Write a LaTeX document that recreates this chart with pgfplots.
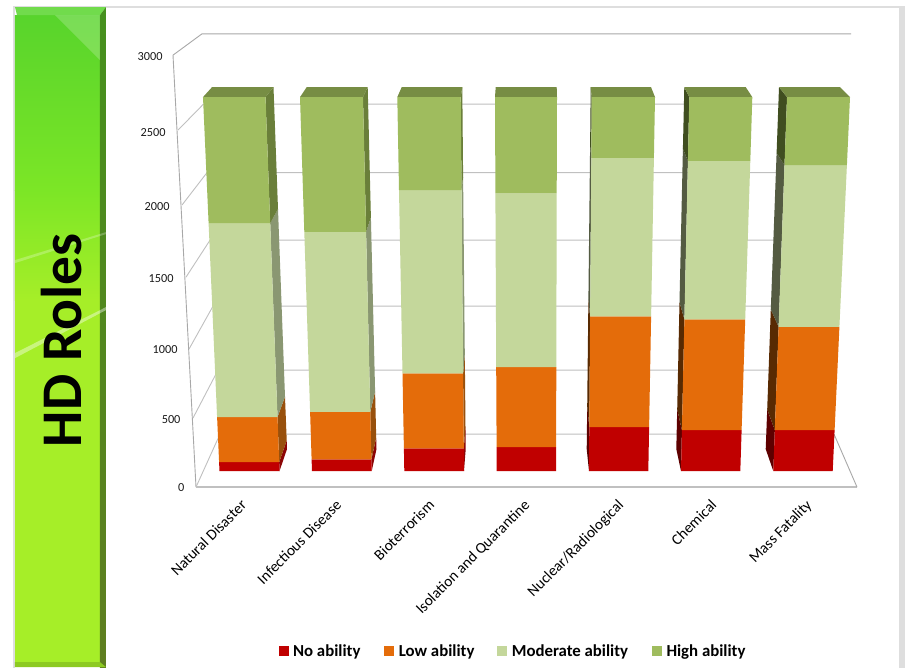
\documentclass[border=0pt]{standalone}
\usepackage{fontspec}
\setmainfont{Carlito}
\usepackage{pgfplots}
\pgfplotsset{compat=1.18}

\definecolor{cNo}{HTML}{C00000}
\definecolor{cLow}{HTML}{E46C0A}
\definecolor{cMod}{HTML}{C4D79B}
\definecolor{cHigh}{HTML}{9FBC5E}
\definecolor{cTop}{HTML}{778D44}
\definecolor{rNo}{HTML}{8C0505}
\definecolor{rLow}{HTML}{98500C}
\definecolor{rMod}{HTML}{8A9772}
\definecolor{rHigh}{HTML}{6A7F3A}
\definecolor{lNo}{HTML}{5E0000}
\definecolor{lLow}{HTML}{582A02}
\definecolor{lMod}{HTML}{545B42}
\definecolor{lHigh}{HTML}{404E20}
\definecolor{wall}{HTML}{A8A8A8}
\definecolor{grid}{HTML}{C0C0C0}
\definecolor{gA}{HTML}{58D42C}
\definecolor{gB}{HTML}{7CE626}
\definecolor{gC}{HTML}{A6EE28}
\definecolor{bA}{HTML}{46901E}
\definecolor{bB}{HTML}{5F7E20}

% a filled polygon in axis coordinates
\newcommand\poly[2]{\addplot[forget plot,no markers,draw=none,fill=#1] coordinates {#2};}
% one line of the walls
\newcommand\wline[2]{\addplot[forget plot,no markers,draw=#1,line width=0.9bp] coordinates {#2};}
% front of one stack: colour, bottom left, bottom right, bottom y, top left, top right, top y
\newcommand\face[7]{\poly{#1}{(#2,#4)(#3,#4)(#6,#7)(#5,#7)(#2,#4)}}
\newcommand\PX[2]{({(#1-196)*1bp},{(487-#2)*1bp})}

\begin{document}
\begin{tikzpicture}
% page
\fill[black!13] \PX{0}{0} rectangle \PX{905}{668};
\fill[white] \PX{0}{0} rectangle \PX{13}{668};
\fill[white] \PX{0}{0} rectangle \PX{905}{6};
\fill[white] \PX{15}{8} rectangle \PX{899}{668};

\begin{axis}[
  scale only axis,
  width=661bp, height=487bp,
  xmin=196, xmax=857,
  ymin=-112.5, ymax=3312.2,
  clip=false,
  axis line style={draw=none},
  major tick length=0pt,
  tick label style={font=\fontsize{12.3bp}{14bp}\selectfont,text=black!90},
  ytick={-112.5,365,858,1357,1863,2384,2918},
  yticklabels={{0\kern 8bp},{500\kern 12bp},{1000\kern 15bp},{1500\kern 19bp},{2000\kern 23bp},{2500\kern 27bp},{3000\kern 30bp}},
  xtick={230,325,418,513,607,700,795},
  xticklabels={Natural Disaster,Infectious Disease,Bioterrorism,Isolation and Quarantine,Nuclear/Radiological,Chemical,Mass Fatality},
  x tick label style={rotate=45,anchor=north east,inner sep=1bp,yshift=-14bp,font=\fontsize{15.3bp}{17bp}\selectfont,text=black},
  legend style={at={(axis cs:278.5,-1265)},anchor=west,draw=none,fill=none,inner sep=0pt,
    legend columns=4,column sep=3bp,font=\bfseries\fontsize{16.8bp}{19bp}\selectfont},
  legend image code/.code={\fill[#1] (0bp,-4.5bp) rectangle (9bp,4.5bp);},
]
\addlegendimage{cNo}\addlegendentry{No ability\kern 19bp}
\addlegendimage{cLow}\addlegendentry{Low ability\kern 18bp}
\addlegendimage{cMod}\addlegendentry{Moderate ability\kern 19bp}
\addlegendimage{cHigh}\addlegendentry{High ability}

% walls and floor
\wline{wall}{(173,2925)(196,-112.5)}
\wline{wall}{(173,2925)(202,3075)(851,3075)}
\wline{grid}{(178,2398)(203.5,2581)(848,2581)}
\wline{grid}{(182,1871)(207,2099)(845,2099)}
\wline{grid}{(186,1364)(210,1624)(842,1624)}
\wline{grid}{(189,858)(213,1160)(840,1160)}
\wline{grid}{(193,373)(218,710)(837,710)}
\wline{grid}{(196,-112.5)(220,260)(834,260)}
\addplot[forget plot,no markers,draw=grid,line width=1.3bp] coordinates {(196,-112.5)(857,-112.5)};
\wline{wall}{(857,-112.5)(834,260)}

% Natural Disaster
\poly{rNo}{(279.5,0)(287,155)(286.7,216)(279.2,63)(279.5,0)}
\poly{rLow}{(279.2,63)(286.7,216)(285,523)(277.5,380)(279.2,63)}
\poly{rMod}{(277.5,380)(285,523)(278,1843)(270.2,1744)(277.5,380)}
\poly{rHigh}{(270.2,1744)(278,1843)(273.5,2700)(265.5,2630)(270.2,1744)}
\poly{cTop}{(203,2630)(265.5,2630)(273.5,2700)(212,2700)(203,2630)}
\face{cNo}{219.5}{279.5}{0}{219.1}{279.2}{63}
\face{cLow}{219.1}{279.2}{63}{217.1}{277.5}{380}
\face{cMod}{217.1}{277.5}{380}{208.6}{270.2}{1744}
\face{cHigh}{208.6}{270.2}{1744}{203}{265.5}{2630}

% Infectious Disease
\poly{rNo}{(371.7,0)(376.5,155)(376.2,234)(371.4,82)(371.7,0)}
\poly{rLow}{(371.4,82)(376.2,234)(375.1,559)(370.3,417)(371.4,82)}
\poly{rMod}{(370.3,417)(375.1,559)(370.9,1784)(366.1,1683)(370.3,417)}
\poly{rHigh}{(366.1,1683)(370.9,1784)(367.7,2700)(363,2630)(366.1,1683)}
\poly{cTop}{(300,2630)(363,2630)(367.7,2700)(306.7,2700)(300,2630)}
\face{cNo}{312}{371.7}{0}{311.6}{371.4}{82}
\face{cLow}{311.6}{371.4}{82}{310.1}{370.3}{417}
\face{cMod}{310.1}{370.3}{417}{304.3}{366.1}{1683}
\face{cHigh}{304.3}{366.1}{1683}{300}{363}{2630}

% Bioterrorism
\poly{rNo}{(464,0)(465.7,155)(465.5,310)(463.8,160)(464,0)}
\poly{rLow}{(463.8,160)(465.5,310)(464.8,820)(463.1,687)(463.8,160)}
\poly{rMod}{(463.1,687)(464.8,820)(463.1,2067)(461.5,1976)(463.1,687)}
\poly{rHigh}{(461.5,1976)(463.1,2067)(462.3,2700)(460.7,2630)(461.5,1976)}
\poly{cTop}{(397.3,2630)(460.7,2630)(462.3,2700)(401.7,2700)(397.3,2630)}
\face{cNo}{404.3}{464}{0}{403.9}{463.8}{160}
\face{cLow}{403.9}{463.8}{160}{402.5}{463.1}{687}
\face{cMod}{402.5}{463.1}{687}{399}{461.5}{1976}
\face{cHigh}{399}{461.5}{1976}{397.3}{460.7}{2630}

% Isolation and Quarantine
\poly{cTop}{(495,2630)(557,2630)(556.7,2700)(495.7,2700)(495,2630)}
\face{cNo}{496.7}{556}{0}{496.6}{556.1}{169}
\face{cLow}{496.6}{556.1}{169}{496.2}{556.3}{731}
\face{cMod}{496.2}{556.3}{731}{495.4}{556.7}{1953}
\face{cHigh}{495.4}{556.7}{1953}{495}{557}{2630}

% Nuclear/Radiological
\poly{lNo}{(589,0)(586.7,155)(587.2,454)(589.3,309)(589,0)}
\poly{lLow}{(589.3,309)(587.2,454)(588.4,1208)(590.1,1088)(589.3,309)}
\poly{lMod}{(590.1,1088)(588.4,1208)(590.1,2287)(591.3,2203)(590.1,1088)}
\poly{lHigh}{(591.3,2203)(590.1,2287)(590.7,2700)(591.7,2630)(591.3,2203)}
\poly{cTop}{(591.7,2630)(655,2630)(651,2700)(590.7,2700)(591.7,2630)}
\face{cNo}{589}{648.3}{0}{589.3}{649.1}{309}
\face{cLow}{589.3}{649.1}{309}{590.1}{651.1}{1088}
\face{cMod}{590.1}{651.1}{1088}{591.3}{653.9}{2203}
\face{cHigh}{591.3}{653.9}{2203}{591.7}{655}{2630}

% Chemical
\poly{lNo}{(681,0)(676.3,155)(677.2,434)(681.9,288)(681,0)}
\poly{lLow}{(681.9,288)(677.2,434)(679.5,1188)(684.4,1067)(681.9,288)}
\poly{lMod}{(684.4,1067)(679.5,1188)(682.9,2267)(687.9,2182)(684.4,1067)}
\poly{lHigh}{(687.9,2182)(682.9,2267)(684.3,2700)(689.3,2630)(687.9,2182)}
\poly{cTop}{(689.3,2630)(752.3,2630)(745.7,2700)(684.3,2700)(689.3,2630)}
\face{cNo}{681}{740.3}{0}{681.9}{741.6}{288}
\face{cLow}{681.9}{741.6}{288}{684.4}{745.2}{1067}
\face{cMod}{684.4}{745.2}{1067}{687.9}{750.3}{2182}
\face{cHigh}{687.9}{750.3}{2182}{689.3}{752.3}{2630}

% Mass Fatality
\poly{lNo}{(773.3,0)(765.7,155)(767.2,434)(774.8,288)(773.3,0)}
\poly{lLow}{(774.8,288)(767.2,434)(770.8,1137)(778.6,1015)(774.8,288)}
\poly{lMod}{(778.6,1015)(770.8,1137)(776.6,2237)(784.5,2152)(778.6,1015)}
\poly{lHigh}{(784.5,2152)(776.6,2237)(779,2700)(787,2630)(784.5,2152)}
\poly{cTop}{(787,2630)(850,2630)(840,2700)(779,2700)(787,2630)}
\face{cNo}{773.3}{832.7}{0}{774.8}{834.6}{288}
\face{cLow}{774.8}{834.6}{288}{778.6}{839.4}{1015}
\face{cMod}{778.6}{839.4}{1015}{784.5}{846.9}{2152}
\face{cHigh}{784.5}{846.9}{2152}{787}{850}{2630}
\end{axis}

% green side panel
\shade[top color=gA,bottom color=gB] \PX{15}{15} rectangle \PX{100}{190};
\shade[top color=gB,bottom color=gC] \PX{15}{190} rectangle \PX{100}{300};
\fill[gC] \PX{15}{300} rectangle \PX{100}{662};
\fill[gA!85!white] \PX{15}{7} -- \PX{106}{7} -- \PX{100}{15} -- \PX{17}{15} -- cycle;
\shade[top color=bA,bottom color=bB] \PX{100}{15} rectangle \PX{106}{667};
\fill[bA] \PX{100}{15} -- \PX{106}{7} -- \PX{106}{15} -- cycle;
\fill[gC!85!black] \PX{15}{662} -- \PX{100}{662} -- \PX{106}{667} -- \PX{15}{667} -- cycle;
\fill[white,opacity=0.2] \PX{55}{15} -- \PX{100}{15} -- \PX{100}{60} -- cycle;
\fill[white,opacity=0.4] \PX{15}{353} -- \PX{106}{307} -- \PX{106}{310} -- \PX{15}{358} -- cycle;
\fill[white,opacity=0.25] \PX{15}{260} -- \PX{106}{232} -- \PX{106}{234} -- \PX{15}{263} -- cycle;
\node[rotate=90,font=\bfseries\fontsize{57.5bp}{60bp}\selectfont,text=black] at \PX{62}{340} {HD Roles};
\end{tikzpicture}
\end{document}
